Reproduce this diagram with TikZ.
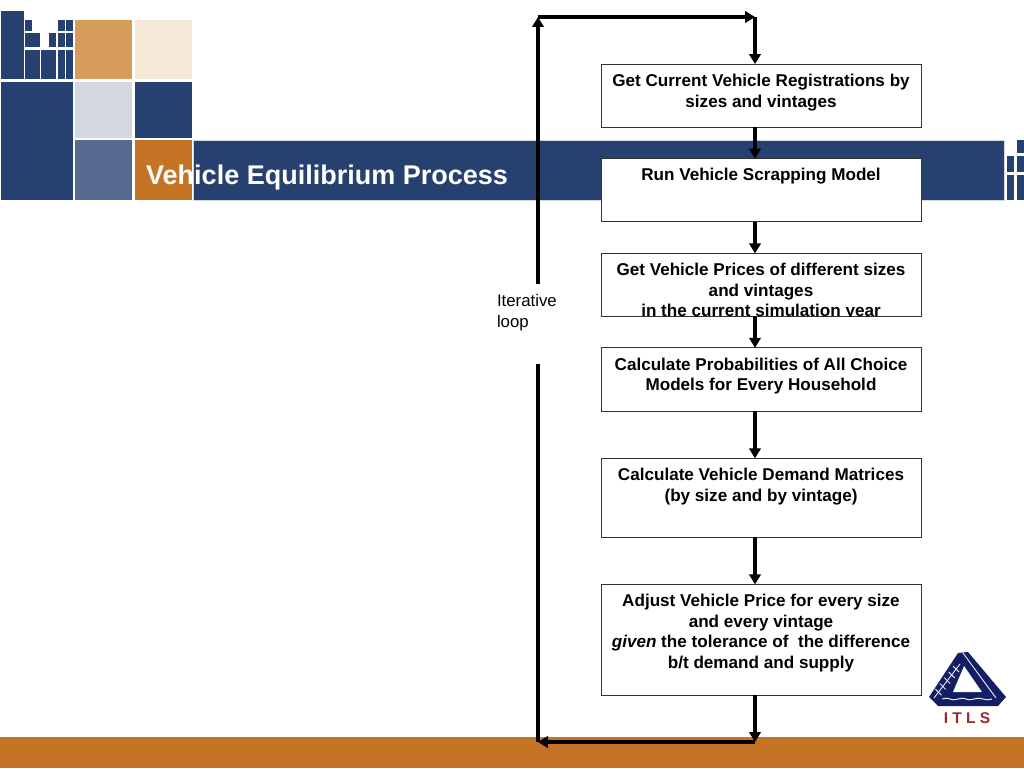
\documentclass[tikz,border=0pt]{standalone}
\usepackage{xcolor}
\usepackage{fontspec}
\setmainfont{Liberation Sans}
\newfontfamily\logofont[LetterSpace=27]{Liberation Sans}
\usepackage{tikz}
\usetikzlibrary{arrows.meta, positioning, calc}
\definecolor{navyblock}{RGB}{38, 64, 112}
\definecolor{orangeblock}{RGB}{196, 116, 36}
\definecolor{tanblock}{RGB}{214, 156, 90}
\definecolor{creamblock}{RGB}{245, 233, 216}
\definecolor{greyblock}{RGB}{211, 215, 226}
\definecolor{slateblock}{RGB}{86, 105, 143}
\definecolor{logonavy}{RGB}{20, 30, 100}
\definecolor{logored}{RGB}{160, 37, 45}
\newcommand{\boxtext}[2]{\parbox[c][#1][t]{316pt}{\vspace*{8pt}\centering\strut #2}}

\begin{document}
\begin{tikzpicture}[
        x=1pt, y=-1pt,
        node distance=31.2pt,
        box/.style={rectangle, draw=black!80, fill=white, line width=1pt, inner sep=0pt, outer sep=0pt, minimum width=320pt, font=\fontsize{17.1}{20.6}\selectfont\bfseries},
        flow/.style={-{Triangle[length=10pt,width=11.5pt]}, line width=3.8pt, black}
    ]
        \useasboundingbox (0,0) rectangle (1024,768);
        % slide background
        \fill[orangeblock] (0,737) rectangle (1024,768);
        \fill[navyblock] (1,11) rectangle (24,79);
        \foreach \xa/\ya/\xb/\yb in {25/20/32/31, 25/33/40/47, 25/50/40/79, 41/50/56/79, 49/33/56/47, 58/20/65/31, 58/33/65/47, 58/50/65/79, 66/20/73/31, 66/33/73/47, 66/50/73/79, 1/82/73/200, 135/82/192/138, 1007/156/1014/172, 1007/175/1014/200, 1017/140/1024/153, 1017/156/1024/172, 1017/175/1024/200}
            \fill[navyblock] (\xa,\ya) rectangle (\xb,\yb);
        \fill[tanblock] (75,20) rectangle (132,79);
        \fill[creamblock] (135,20) rectangle (192,79);
        \fill[greyblock] (75,82) rectangle (132,138);
        \fill[slateblock] (75,140) rectangle (132,200);
        \fill[orangeblock] (135,140) rectangle (192,200);
        \filldraw[fill=navyblock, draw=greyblock, line width=0.8pt] (193,140) rectangle (1004,200);
        \node[anchor=base west, text=white, font=\fontsize{27}{30}\selectfont\bfseries, inner sep=0pt] (title) at (146,184.5) {Vehicle Equilibrium Process};

        % logo
        \fill[logonavy] (958,653) -- (968,652) -- (1006,697) -- (998,706) -- (938,706) -- (929,697) -- cycle;
        \fill[white] (964,666) -- (982,692) -- (953,692) -- cycle;
        \draw[white, line width=0.8pt] (963,653) -- (996,698);
        \draw[white, line width=0.8pt] (960,664) -- (934,698);
        \foreach \t in {0.15,0.32,0.49,0.66,0.83}
            \draw[white, line width=0.8pt] ($(960,664)!\t!(934,698)+(-3,-3)$) -- ($(960,664)!\t!(934,698)+(3,3)$);
        \draw[white, line width=0.9pt] (942,699) .. controls (948,696) and (952,702) .. (958,699) .. controls (964,696) and (968,702) .. (974,699) .. controls (980,696) and (986,702) .. (992,699);
        \node[text=logored, font=\logofont\fontsize{15.5}{17}\selectfont\bfseries, inner sep=0pt] (itls) at (967,718) {ITLS};

        % process boxes
        \node[box] (getreg) at (761,95.7) {\boxtext{63.3pt}{Get Current Vehicle Registrations by\\sizes and vintages}};
        \node[box, below=of getreg] (scrap) {\boxtext{63.2pt}{Run Vehicle Scrapping Model}};
        \node[box, below=31.6pt of scrap] (prices) {\boxtext{63pt}{Get Vehicle Prices of different sizes\\and vintages\\in the current simulation year}};
        \fill[white] ([yshift=-0.5pt]prices.south west) rectangle ([yshift=-5pt]prices.south east);
        \node[box, below=31.4pt of prices] (probs) {\boxtext{63.3pt}{Calculate Probabilities of All Choice\\Models for Every Household}};
        \node[box, below=47.3pt of probs] (demand) {\boxtext{79pt}{Calculate Vehicle Demand Matrices\\(by size and by vintage)}};
        \node[box, below=47pt of demand] (adjust) {\boxtext{111pt}{Adjust Vehicle Price for every size\\and every vintage\\\textit{given} the tolerance of \ the difference\\b/t demand and supply}};

        \coordinate (spine) at (755,0);
        \coordinate (topleft) at (538,17);
        \coordinate (topright) at (755,17);
        \coordinate (botleft) at (538,742);
        \coordinate (botright) at (755,742);

        \draw[flow] (getreg.south -| spine) -- (scrap.north -| spine);
        \draw[flow] (scrap.south -| spine) -- (prices.north -| spine);
        \draw[flow] (prices.south -| spine) -- (probs.north -| spine);
        \draw[flow] (probs.south -| spine) -- (demand.north -| spine);
        \draw[flow] (demand.south -| spine) -- (adjust.north -| spine);
        \draw[flow] (adjust.south -| spine) -- (botright);
        \draw[flow] (botright) -- (botleft);
        \draw[flow] (botleft) -- (topleft);
        \draw[flow] (topleft) -- (topright);
        \draw[flow] (topright) -- (getreg.north -| spine);

        \node[fill=white, inner sep=0pt, font=\fontsize{16.8}{20.8}\selectfont] (iterloop) at (528,324) {\parbox[c][80pt][t]{62pt}{\vspace*{8pt}\raggedright\strut Iterative\\loop}};
    \end{tikzpicture}
\end{document}
